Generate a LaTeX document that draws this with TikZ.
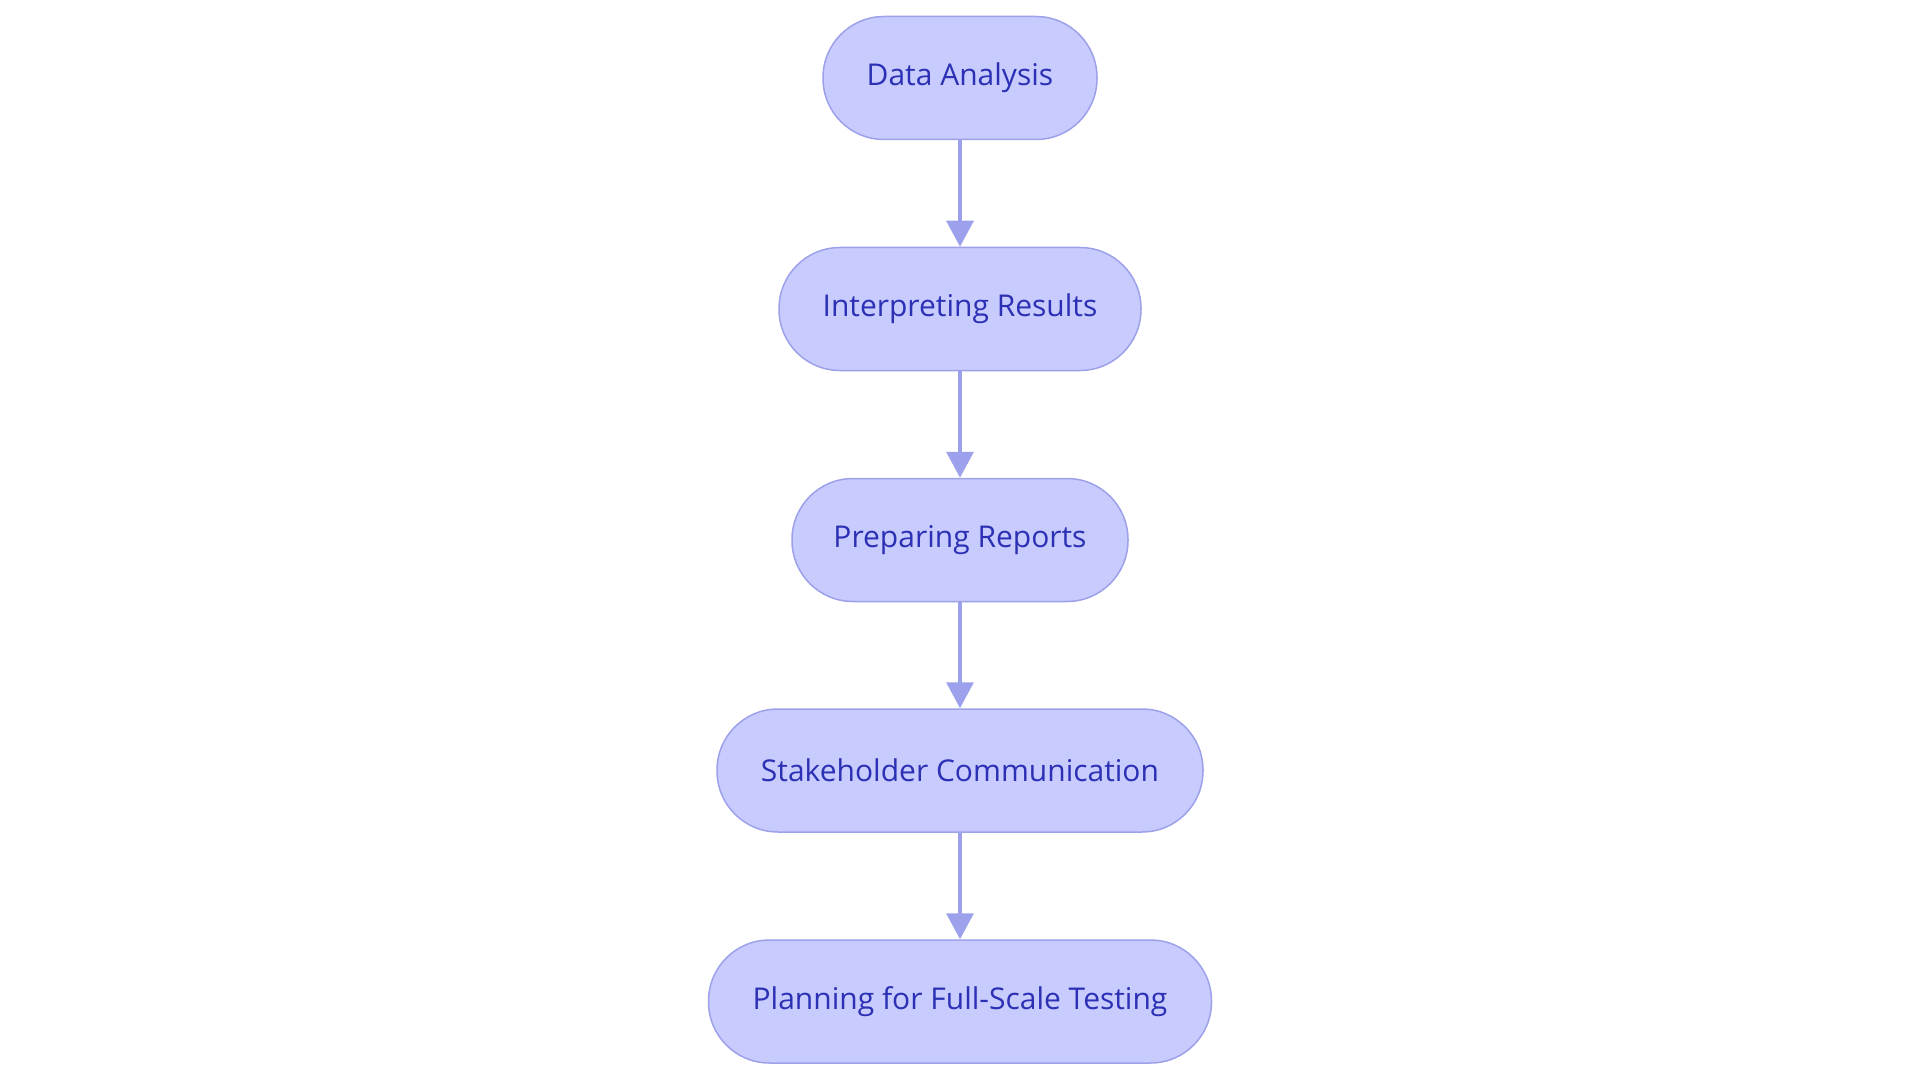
\documentclass[tikz,border=0pt]{standalone}
\usepackage{fontspec}
\setmainfont{Open Sans}
\usetikzlibrary{arrows.meta}
\definecolor{nodefill}{HTML}{C8CBFE}
\definecolor{nodedraw}{HTML}{9DA1EA}
\definecolor{nodetext}{HTML}{2B30B4}
\definecolor{arrowcol}{HTML}{9DA1EC}
\tikzset{
  stadium/.style={draw=nodedraw, fill=nodefill, line width=1.5pt, rounded corners=61pt,
    minimum height=123pt, text=nodetext, font=\fontsize{30}{36}\selectfont, inner sep=0pt},
  flow/.style={draw=arrowcol, line width=3.5pt, -{Triangle[length=26pt,width=27pt]}}
}
\begin{document}
\begin{tikzpicture}[x=1pt,y=-1pt]
\useasboundingbox (0,0) rectangle (1920,1083);
\node[stadium, minimum width=274pt] (a) at (960,78) {Data Analysis};
\node[stadium, minimum width=362pt] (b) at (960,309) {Interpreting Results};
\node[stadium, minimum width=336pt] (c) at (960,540) {Preparing Reports};
\node[stadium, minimum width=486pt] (d) at (960,770.5) {Stakeholder Communication};
\node[stadium, minimum width=503pt] (e) at (960,1001.5) {Planning for Full-Scale Testing};
\draw[flow] (a) -- (b);
\draw[flow] (b) -- (c);
\draw[flow] (c) -- (d);
\draw[flow] (d) -- (e);
\end{tikzpicture}
\end{document}
